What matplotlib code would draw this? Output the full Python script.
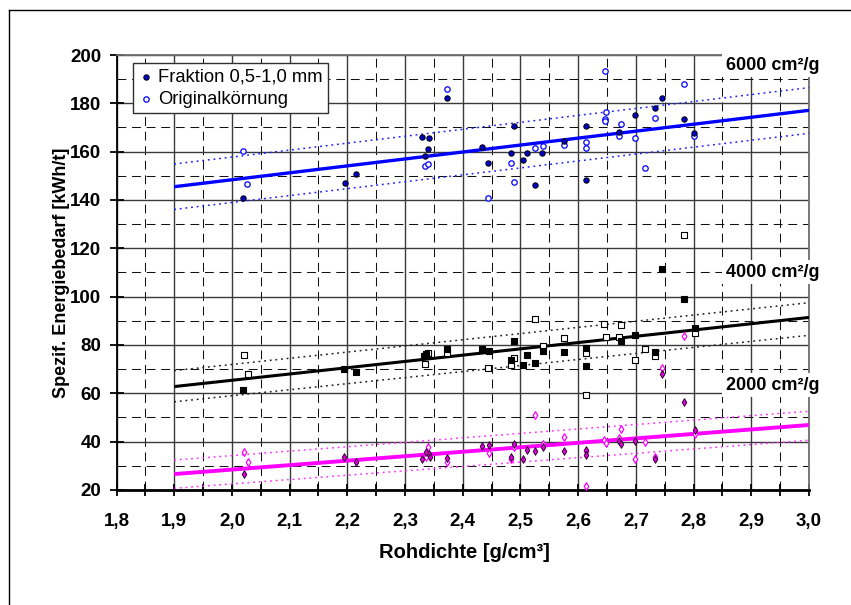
import matplotlib
matplotlib.use('Agg')
import matplotlib.pyplot as plt
from matplotlib.lines import Line2D
from matplotlib.ticker import MultipleLocator, FuncFormatter

plt.rcParams['font.family'] = ['Liberation Sans', 'DejaVu Sans']

# ---------------- data ----------------
# 6000 cm²/g  (blue)
blue_frak_x = [2.020, 2.196, 2.215, 2.330, 2.342, 2.340, 2.335, 2.372, 2.433, 2.444, 2.489, 2.484, 2.504,
               2.512, 2.538, 2.526, 2.575, 2.614, 2.614, 2.670, 2.698, 2.733, 2.745, 2.783, 2.801]
blue_frak_y = [141.0, 147.2, 150.6, 166.2, 165.8, 161.1, 158.3, 182.3, 161.8, 155.3, 170.6, 159.4, 156.6,
               159.6, 159.4, 146.3, 164.4, 170.6, 148.3, 168.3, 175.0, 178.1, 182.3, 173.4, 167.9]
blue_orig_x = [2.020, 2.027, 2.334, 2.340, 2.372, 2.444, 2.484, 2.489, 2.526, 2.539, 2.575, 2.614, 2.614,
               2.646, 2.648, 2.647, 2.647, 2.675, 2.670, 2.698, 2.716, 2.733, 2.783, 2.801]
blue_orig_y = [160.2, 146.5, 154.1, 155.0, 185.9, 141.0, 155.4, 147.3, 161.6, 162.5, 162.9, 164.1, 161.5,
               193.4, 176.3, 173.4, 172.8, 171.3, 166.4, 165.7, 153.2, 174.1, 187.9, 166.6]

# 4000 cm²/g  (black)
black_frak_x = [2.020, 2.194, 2.215, 2.333, 2.337, 2.372, 2.433, 2.445, 2.489, 2.483, 2.504, 2.512, 2.526,
                2.539, 2.575, 2.614, 2.614, 2.675, 2.698, 2.733, 2.745, 2.783, 2.802]
black_frak_y = [61.5, 70.2, 69.0, 75.5, 76.3, 78.2, 78.5, 77.6, 81.8, 73.8, 71.6, 76.0, 72.6,
                77.5, 77.0, 78.9, 71.5, 81.8, 84.0, 77.1, 111.4, 99.0, 87.2]
black_orig_x = [2.021, 2.028, 2.335, 2.340, 2.372, 2.444, 2.489, 2.483, 2.526, 2.539, 2.575, 2.614, 2.614,
                2.645, 2.648, 2.670, 2.675, 2.698, 2.716, 2.733, 2.783, 2.802]
black_orig_y = [76.0, 68.0, 72.0, 76.6, 76.8, 70.6, 74.8, 71.9, 90.9, 79.6, 83.0, 76.7, 59.4,
                88.8, 83.3, 83.4, 88.3, 73.8, 78.3, 75.6, 125.5, 84.8]

# 2000 cm²/g  (magenta)
mag_frak_x = [2.021, 2.195, 2.215, 2.330, 2.336, 2.341, 2.343, 2.372, 2.433, 2.445, 2.489, 2.483, 2.504,
              2.512, 2.526, 2.539, 2.575, 2.614, 2.614, 2.670, 2.675, 2.698, 2.733, 2.745, 2.783, 2.802]
mag_frak_y = [26.7, 33.5, 31.5, 32.7, 35.9, 34.9, 33.6, 33.4, 38.0, 38.5, 39.0, 33.8, 32.7,
              36.4, 36.0, 37.7, 36.0, 36.6, 34.3, 40.3, 39.2, 40.3, 32.8, 68.0, 56.5, 45.0]
mag_orig_x = [2.021, 2.028, 2.340, 2.336, 2.372, 2.445, 2.489, 2.483, 2.526, 2.539, 2.575, 2.614, 2.614,
              2.645, 2.648, 2.670, 2.675, 2.698, 2.716, 2.733, 2.745, 2.783, 2.802]
mag_orig_y = [35.9, 31.5, 37.9, 33.5, 31.7, 35.2, 37.7, 33.0, 51.0, 39.0, 42.1, 36.0, 21.7,
              40.7, 39.5, 41.6, 45.2, 32.7, 40.0, 33.5, 70.3, 83.6, 43.2]

# trend lines and bands (values at x = 1.9 and 3.0)
fit_x = [1.9, 3.0]
blue_fit = [145.5, 177.1]
blue_upper = [154.9, 186.5]
blue_lower = [136.1, 167.6]
black_fit = [62.8, 91.4]
black_upper = [69.4, 97.5]
black_lower = [56.5, 84.0]
mag_fit = [26.6, 46.9]
mag_upper = [32.4, 52.6]
mag_lower = [20.7, 40.6]

series_labels = ['6000 cm²/g', '4000 cm²/g', '2000 cm²/g']
series_label_y = [195.7, 110.2, 63.3]
legend_labels = ['Fraktion 0,5-1,0 mm', 'Originalkörnung']

# ---------------- figure ----------------
W, H = 851, 605
fig = plt.figure(figsize=(W / 100, H / 100), dpi=100)
ax = fig.add_axes([116.5 / W, 1 - 490 / H, (809 - 116.5) / W, (490 - 55) / H])
ax.set_xlim(1.8, 3.0)
ax.set_ylim(20, 200)

# grid
ax.xaxis.set_major_locator(MultipleLocator(0.1))
ax.xaxis.set_minor_locator(MultipleLocator(0.05))
ax.yaxis.set_major_locator(MultipleLocator(20))
ax.yaxis.set_minor_locator(MultipleLocator(10))
ax.grid(which='major', color='#3a3a3a', lw=1.0, ls='-', zorder=0)
ax.grid(which='minor', color='#111111', lw=0.75, ls=(0, (8.5, 5.5)), zorder=0)
ax.set_axisbelow(True)

# spines
for s in ['top', 'right']:
    ax.spines[s].set_color('#707070')
    ax.spines[s].set_linewidth(1.3)
ax.spines['left'].set_linewidth(1.3)
ax.spines['bottom'].set_linewidth(2.0)

ax.tick_params(axis='x', which='both', direction='inout', length=9, width=1.3, pad=12,
               labelsize=13.5)
ax.tick_params(axis='y', which='major', direction='inout', length=10, width=1.3, pad=6,
               labelsize=13.5)
ax.tick_params(axis='y', which='minor', length=0)
ax.xaxis.set_major_formatter(FuncFormatter(lambda v, p: f"{v:.1f}".replace('.', ',')))
ax.yaxis.set_major_formatter(FuncFormatter(lambda v, p: f"{int(round(v))}"))
for lab in ax.get_xticklabels() + ax.get_yticklabels():
    lab.set_fontweight('bold')

# trend lines
ax.plot(fit_x, blue_fit, color='#0000FF', lw=2.4, zorder=3, solid_capstyle='butt')
ax.plot(fit_x, blue_upper, color='#2020FF', lw=1.1, ls=(0, (1.2, 2.5)), zorder=3)
ax.plot(fit_x, blue_lower, color='#2020FF', lw=1.1, ls=(0, (1.2, 2.5)), zorder=3)
ax.plot(fit_x, black_fit, color='black', lw=2.2, zorder=3, solid_capstyle='butt')
ax.plot(fit_x, black_upper, color='#202020', lw=1.1, ls=(0, (1.2, 2.5)), zorder=3)
ax.plot(fit_x, black_lower, color='#202020', lw=1.1, ls=(0, (1.2, 2.5)), zorder=3)
ax.plot(fit_x, mag_fit, color='#FF00FF', lw=2.8, zorder=3, solid_capstyle='butt')
ax.plot(fit_x, mag_upper, color='#FF33FF', lw=1.1, ls=(0, (1.2, 2.5)), zorder=3)
ax.plot(fit_x, mag_lower, color='#FF33FF', lw=1.1, ls=(0, (1.2, 2.5)), zorder=3)

# points
h1 = ax.scatter(blue_frak_x, blue_frak_y, s=15, marker='o', facecolor='#0000C8',
                edgecolor='black', lw=0.7, zorder=5, label=legend_labels[0])
h2 = ax.scatter(blue_orig_x, blue_orig_y, s=15, marker='o', facecolor='white',
                edgecolor='#0000FF', lw=0.9, zorder=4, label=legend_labels[1])
ax.scatter(black_orig_x, black_orig_y, s=16, marker='s', facecolor='white',
           edgecolor='black', lw=0.8, zorder=4)
ax.scatter(black_frak_x, black_frak_y, s=16, marker='s', facecolor='black',
           edgecolor='black', lw=0.8, zorder=5)
ax.scatter(mag_orig_x, mag_orig_y, s=15, marker='d', facecolor='white',
           edgecolor='#FF00FF', lw=0.9, zorder=4)
ax.scatter(mag_frak_x, mag_frak_y, s=15, marker='d', facecolor='#E000E0',
           edgecolor='#300030', lw=0.7, zorder=5)

# legend
leg = ax.legend(handles=[h1, h2], loc='upper left', bbox_to_anchor=(0.0243, 0.982),
                borderaxespad=0, fontsize=13.2, frameon=True, fancybox=False,
                edgecolor='#303030', framealpha=1, handlelength=0.8, handletextpad=0.25,
                borderpad=0.3, labelspacing=0.3, scatterpoints=1)
leg.get_frame().set_linewidth(1.0)
leg.set_zorder(10)

# series labels
for t, yv in zip(series_labels, series_label_y):
    ax.text(2.856, yv, t, fontsize=13, fontweight='bold', ha='left', va='center',
            bbox=dict(facecolor='white', edgecolor='none', pad=2.5), zorder=12, clip_on=False)

# axis labels
ax.set_xlabel('Rohdichte [g/cm³]', fontsize=14.5, fontweight='bold')
ax.xaxis.set_label_coords(0.502, (490 - 552) / 435)
ax.xaxis.label.set_va('center')
ax.set_ylabel('Spezif. Energiebedarf [kWh/t]', fontsize=13, fontweight='bold')
ax.yaxis.set_label_coords((62 - 116.5) / 692.5, 0.5)
ax.yaxis.label.set_va('center')

# outer frame (partially visible)
fig.add_artist(Line2D([9 / W, 1.0], [1 - 10 / H, 1 - 10 / H], transform=fig.transFigure,
                      color='black', lw=1.0))
fig.add_artist(Line2D([9 / W, 9 / W], [0, 1 - 10 / H], transform=fig.transFigure,
                      color='black', lw=1.0))

fig.savefig('out.png', dpi=100)
